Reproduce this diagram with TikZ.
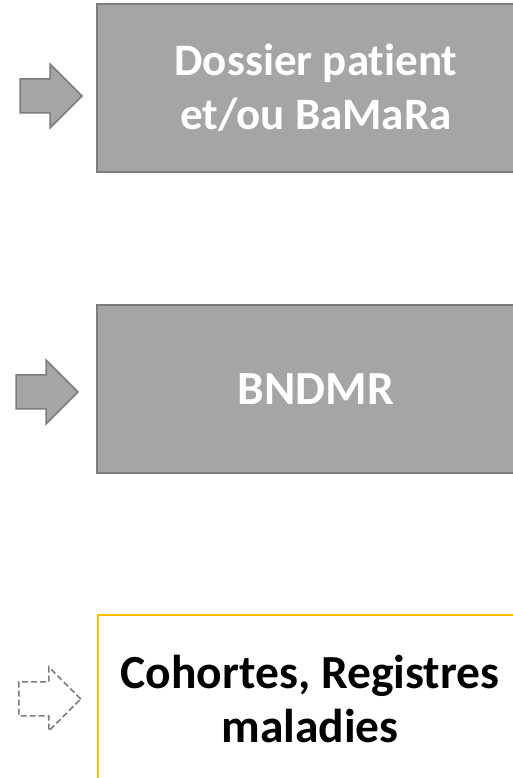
\documentclass[tikz,border=0pt]{standalone}
\usepackage{fontspec}
\setmainfont{Carlito}[Ligatures=NoCommon]
\definecolor{BoxGrey}{RGB}{165,165,165}
\definecolor{EdgeGrey}{RGB}{124,124,124}
\definecolor{AccentGold}{RGB}{255,192,0}
\usetikzlibrary{calc}
\tikzset{
  stagebox/.style={minimum width=438pt,minimum height=168pt,inner sep=0pt,
    align=center,font=\fontsize{47.5}{54}\selectfont\bfseries},
  greybox/.style={stagebox,fill=BoxGrey,draw=EdgeGrey,line width=2pt,text=white},
  openbox/.style={stagebox,minimum width=424pt,fill=white,text=black},
  blockarrow/.style={fill=BoxGrey,draw=EdgeGrey,line width=1.5pt,line join=miter},
  ghostarrow/.style={draw=EdgeGrey,line width=1.5pt,dash pattern=on 6pt off 3pt}
}
% block arrow, tip given
\newcommand{\stagearrow}[2]{%
  \draw[#1] (#2) -- ++(-32,32) -- ++(0,-15) -- ++(-30,0) -- ++(0,-34)
    -- ++(30,0) -- ++(0,-15) -- cycle;}
\begin{document}
\begin{tikzpicture}[x=1pt,y=1pt]
\useasboundingbox (0,0) rectangle (513,778);
\clip (0,0) rectangle (513,778);
% Dossier
\node[greybox,font=\fontsize{45}{54}\selectfont\bfseries] (dossier) at (316,690)
  {Dossier patient\\et/ou BaMaRa};
% BNDMR
\node[greybox] (bndmr) at (316,389) {BNDMR};
% Cohortes
\node[openbox] (cohortes) at (310,79) {Cohortes, Registres\\maladies};
\draw[AccentGold,line width=2pt] (cohortes.south west) |- (cohortes.north east);
% arrows
\coordinate (tipa) at ($(dossier.west)+(-14,-8)$);
\coordinate (tipb) at ($(bndmr.west)+(-18,-3)$);
\coordinate (tipc) at ($(cohortes.west)+(-17,0)$);
\stagearrow{blockarrow}{tipa}
\stagearrow{blockarrow}{tipb}
\stagearrow{ghostarrow}{tipc}
\end{tikzpicture}
\end{document}
